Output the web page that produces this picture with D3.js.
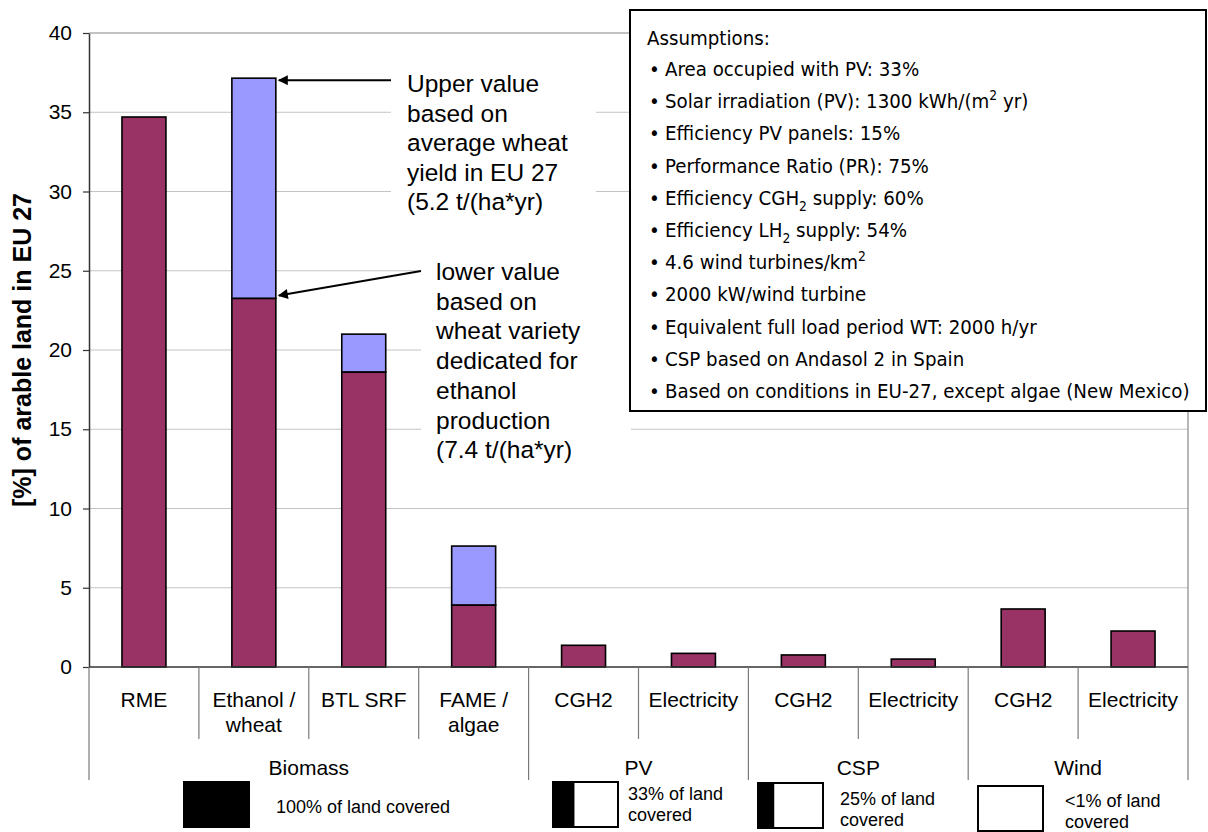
<!DOCTYPE html>
<html>
<head>
<meta charset="utf-8">
<script src="https://cdn.jsdelivr.net/npm/d3@7"></script>
<style>
  body { margin: 0; background: #fff; }
  svg { display: block; }
  text { font-family: "Liberation Sans", Arial, sans-serif; fill: #000; }
</style>
</head>
<body>
<svg id="chart" width="1208" height="832"></svg>
<script>
// ---- data -------------------------------------------------------------
const categories = ["RME", "Ethanol /\nwheat", "BTL SRF", "FAME /\nalgae",
                    "CGH2", "Electricity", "CGH2", "Electricity", "CGH2", "Electricity"];
const categoryGroup = ["Biomass", "Biomass", "Biomass", "Biomass",
                       "PV", "PV", "CSP", "CSP", "Wind", "Wind"];
const groups = ["Biomass", "PV", "CSP", "Wind"];

// lower value (maroon) and upper value (blue top) in % of arable land in EU 27
const lowerValues = [34.7, 23.25, 18.6, 3.9, 1.37, 0.86, 0.76, 0.5, 3.66, 2.27];
const upperValues = [null, 37.15, 21.0, 7.63, null, null, null, null, null, null];

const yTicks = [0, 5, 10, 15, 20, 25, 30, 35, 40];

// land covered by the installations, per group
const landShare = [1.0, 0.33, 0.25, 0.0];
const landLabels = [["100% of land covered"], ["33% of land", "covered"],
                    ["25% of land", "covered"], ["<1% of land", "covered"]];

const upperNote = ["Upper value", "based on", "average wheat", "yield in EU 27", "(5.2 t/(ha*yr)"];
const lowerNote = ["lower value", "based on", "wheat variety", "dedicated for", "ethanol",
                   "production", "(7.4 t/(ha*yr)"];

const assumptionsTitle = "Assumptions:";
const assumptions = [
  "Area occupied with PV: 33%",
  "Solar irradiation (PV): 1300 kWh/(m^{2} yr)",
  "Efficiency PV panels: 15%",
  "Performance Ratio (PR): 75%",
  "Efficiency CGH_{2} supply: 60%",
  "Efficiency LH_{2} supply: 54%",
  "4.6 wind turbines/km^{2}",
  "2000 kW/wind turbine",
  "Equivalent full load period WT: 2000 h/yr",
  "CSP based on Andasol 2 in Spain",
  "Based on conditions in EU-27, except algae (New Mexico)"
];

// ---- layout -----------------------------------------------------------
const plot = { left: 89, right: 1188, top: 33, bottom: 667 };
const MAROON = "#993366", BLUE = "#9999ff";

const svg = d3.select("#chart");

const x = d3.scaleBand()
  .domain(d3.range(categories.length))
  .range([plot.left, plot.right])
  .paddingInner(0.6)
  .paddingOuter(0.3);
const y = d3.scaleLinear().domain([0, 40]).range([plot.bottom, plot.top]);

// ---- gridlines and plot border ---------------------------------------
svg.append("g").selectAll("line")
  .data(yTicks.filter(t => t > 0 && t < 40))
  .join("line")
  .attr("x1", plot.left).attr("x2", plot.right)
  .attr("y1", d => y(d)).attr("y2", d => y(d))
  .attr("stroke", "#c4c4c4").attr("stroke-width", 1);

svg.append("path")
  .attr("d", `M${plot.left},${y(40)}H${plot.right}V${y(0)}`)
  .attr("fill", "none").attr("stroke", "#888").attr("stroke-width", 1.2);

// ---- annotation text boxes (white backgrounds hide gridlines) --------
const upperBox = { x: 391, y: 60, w: 205, h: 162 };
const lowerBox = { x: 421, y: 255, w: 210, h: 215 };
svg.append("rect").attr("x", upperBox.x).attr("y", upperBox.y)
  .attr("width", upperBox.w).attr("height", upperBox.h).attr("fill", "#fff");
svg.append("rect").attr("x", lowerBox.x).attr("y", lowerBox.y)
  .attr("width", lowerBox.w).attr("height", lowerBox.h).attr("fill", "#fff");

// ---- bars -------------------------------------------------------------
const idx = d3.range(categories.length);
svg.append("g").selectAll("rect.upper")
  .data(idx.filter(i => upperValues[i] != null))
  .join("rect")
  .attr("class", "upper")
  .attr("x", i => x(i)).attr("width", x.bandwidth())
  .attr("y", i => y(upperValues[i]))
  .attr("height", i => y(lowerValues[i]) - y(upperValues[i]))
  .attr("fill", BLUE).attr("stroke", "#000").attr("stroke-width", 1.6);

svg.append("g").selectAll("rect.lower")
  .data(idx)
  .join("rect")
  .attr("class", "lower")
  .attr("x", i => x(i)).attr("width", x.bandwidth())
  .attr("y", i => y(lowerValues[i]))
  .attr("height", i => y(0) - y(lowerValues[i]))
  .attr("fill", MAROON).attr("stroke", "#000").attr("stroke-width", 1.6);

// ---- y axis -----------------------------------------------------------
const yAxis = svg.append("g")
  .attr("transform", `translate(${plot.left},0)`)
  .call(d3.axisLeft(y).tickValues(yTicks).tickSize(6).tickSizeOuter(0).tickPadding(11));
yAxis.select(".domain").attr("stroke", "#333").attr("stroke-width", 1.5);
yAxis.selectAll(".tick line").attr("stroke", "#333").attr("stroke-width", 1.2);
yAxis.selectAll(".tick text")
  .attr("font-family", "Liberation Sans, Arial, sans-serif")
  .attr("font-size", 21).attr("fill", "#000");

svg.append("text")
  .attr("transform", `translate(31,${(plot.top + plot.bottom) / 2}) rotate(-90)`)
  .attr("text-anchor", "middle")
  .attr("font-size", 25).attr("font-weight", "bold")
  .text("[%] of arable land in EU 27");

// ---- x axis: categories and groups -----------------------------------
const step = x.step();
const boundary = i => (i < categories.length ? x(i) - step * x.paddingInner() / 2 : plot.right);
const isGroupEdge = i => i === 0 || i === categories.length || categoryGroup[i] !== categoryGroup[i - 1];

svg.append("line")
  .attr("x1", plot.left).attr("x2", plot.right)
  .attr("y1", y(0)).attr("y2", y(0))
  .attr("stroke", "#333").attr("stroke-width", 1.5);

svg.append("g").selectAll("line")
  .data(d3.range(categories.length + 1))
  .join("line")
  .attr("x1", boundary).attr("x2", boundary)
  .attr("y1", y(0))
  .attr("y2", i => isGroupEdge(i) ? 780 : 739)
  .attr("stroke", "#7a7a7a").attr("stroke-width", 1.2);

const catLabels = svg.append("g").selectAll("text")
  .data(idx)
  .join("text")
  .attr("x", i => x(i) + x.bandwidth() / 2)
  .attr("y", 707)
  .attr("text-anchor", "middle")
  .attr("font-size", 21);
catLabels.selectAll("tspan")
  .data(i => categories[i].split("\n"))
  .join("tspan")
  .attr("x", function () { return d3.select(this.parentNode).attr("x"); })
  .attr("dy", (d, k) => (k === 0 ? 0 : 25))
  .text(d => d);

const groupSpan = g => {
  const members = idx.filter(i => categoryGroup[i] === g);
  return [boundary(members[0]), boundary(members[members.length - 1] + 1)];
};
svg.append("g").selectAll("text")
  .data(groups)
  .join("text")
  .attr("x", g => d3.mean(groupSpan(g)))
  .attr("y", 775)
  .attr("text-anchor", "middle")
  .attr("font-size", 21)
  .text(g => g);

// ---- land-cover legend below each group ------------------------------
const legendBox = [
  { x: 184, y: 782, textX: 276, textY: 813 },
  { x: 553, y: 782, textX: 628, textY: 800 },
  { x: 758, y: 783, textX: 840, textY: 805 },
  { x: 978, y: 786, textX: 1065, textY: 807 }
];
const boxW = 65, boxH = 45;
const lg = svg.append("g").selectAll("g")
  .data(groups.map((g, k) => k))
  .join("g");
lg.append("rect")
  .attr("x", k => legendBox[k].x).attr("y", k => legendBox[k].y)
  .attr("width", boxW).attr("height", boxH)
  .attr("fill", "#fff").attr("stroke", "#000").attr("stroke-width", 2);
lg.append("rect")
  .attr("x", k => legendBox[k].x).attr("y", k => legendBox[k].y)
  .attr("width", k => boxW * landShare[k]).attr("height", boxH)
  .attr("fill", "#000");
lg.append("text")
  .attr("x", k => legendBox[k].textX).attr("y", k => legendBox[k].textY)
  .attr("font-size", 18)
  .selectAll("tspan")
  .data(k => landLabels[k].map(t => ({ t, k })))
  .join("tspan")
  .attr("x", d => legendBox[d.k].textX)
  .attr("dy", (d, j) => (j === 0 ? 0 : 21))
  .text(d => d.t);

// ---- annotations for the ethanol / wheat bar -------------------------
const defs = svg.append("defs");
defs.append("marker")
  .attr("id", "arrowHead")
  .attr("viewBox", "0 0 10 10").attr("refX", 9).attr("refY", 5)
  .attr("markerWidth", 6).attr("markerHeight", 5)
  .attr("markerUnits", "strokeWidth")
  .attr("orient", "auto")
  .append("path").attr("d", "M0,0L10,5L0,10Z").attr("fill", "#000");

const ethanol = 1;
const tipX = x(ethanol) + x.bandwidth() + 3;
svg.append("line")
  .attr("x1", upperBox.x).attr("y1", y(upperValues[ethanol]) + 2)
  .attr("x2", tipX).attr("y2", y(upperValues[ethanol]) + 2)
  .attr("stroke", "#000").attr("stroke-width", 2)
  .attr("marker-end", "url(#arrowHead)");
svg.append("line")
  .attr("x1", lowerBox.x).attr("y1", 271)
  .attr("x2", tipX).attr("y2", y(lowerValues[ethanol]) - 3)
  .attr("stroke", "#000").attr("stroke-width", 2)
  .attr("marker-end", "url(#arrowHead)");

svg.append("text").attr("font-size", 24.5)
  .selectAll("tspan").data(upperNote).join("tspan")
  .attr("x", 407).attr("y", (d, k) => 92 + k * 29.6)
  .text(d => d);
svg.append("text").attr("font-size", 24.5)
  .selectAll("tspan").data(lowerNote).join("tspan")
  .attr("x", 436).attr("y", (d, k) => 280 + k * 29.7)
  .text(d => d);

// ---- assumptions box --------------------------------------------------
const box = { x: 630, y: 10, w: 576, h: 401 };
svg.append("rect")
  .attr("x", box.x).attr("y", box.y).attr("width", box.w).attr("height", box.h)
  .attr("fill", "#fff").attr("stroke", "#000").attr("stroke-width", 2);

const aFont = "'DejaVu Sans Condensed', 'DejaVu Sans', sans-serif";
const ag = svg.append("g").attr("font-family", aFont);

function richText(sel, str, size) {
  const parts = str.split(/(\^\{[^}]*\}|_\{[^}]*\})/).filter(s => s.length);
  let shift = 0;
  parts.forEach(p => {
    const sup = p.startsWith("^{"), sub = p.startsWith("_{");
    const txt = (sup || sub) ? p.slice(2, -1) : p;
    const target = sup ? -0.4 * size : sub ? 0.3 * size : 0;
    sel.append("tspan")
      .attr("dy", target - shift)
      .attr("font-size", (sup || sub) ? size * 0.68 : size)
      .text(txt);
    shift = target;
  });
}

function drawAssumptions(size) {
  ag.selectAll("*").remove();
  ag.append("text").attr("x", 647).attr("y", 45).attr("font-size", size)
    .style("font-family", aFont).text(assumptionsTitle);
  return assumptions.map((s, j) => {
    const by = 76 + j * 32.2;
    ag.append("text").attr("x", 649).attr("y", by).attr("font-size", size)
      .style("font-family", aFont).text("\u2022");
    const t = ag.append("text").attr("x", 665).attr("y", by).attr("font-size", size)
      .style("font-family", aFont);
    richText(t, s, size);
    return t;
  });
}

// size the assumption text so the longest line spans the box width
const trial = 18;
const trialLines = drawAssumptions(trial);
const longest = d3.max(trialLines, t => t.node().getComputedTextLength());
drawAssumptions(trial * 525 / longest);
</script>
</body>
</html>
